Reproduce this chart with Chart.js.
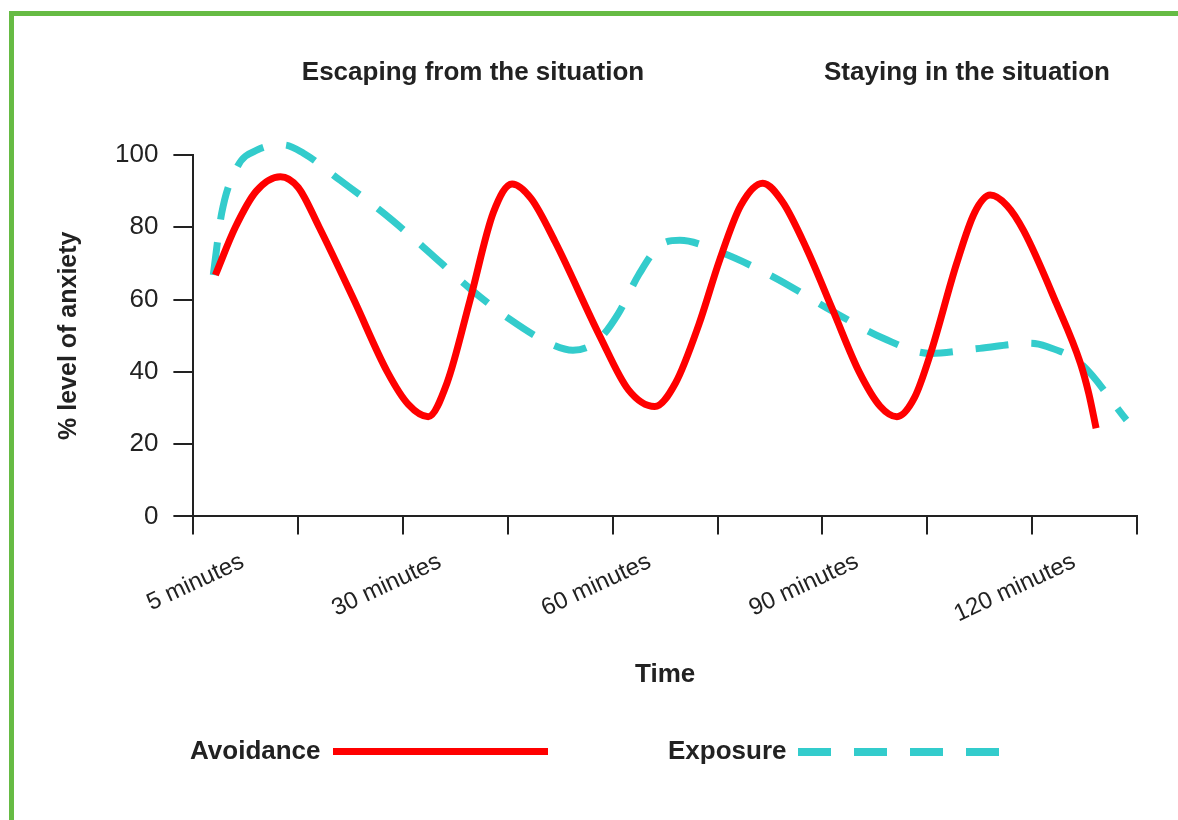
<!DOCTYPE html>
<html>
<head>
<meta charset="utf-8">
<script src="https://cdn.jsdelivr.net/npm/chart.js@4/dist/chart.umd.min.js"></script>
<style>
  html, body { margin: 0; padding: 0; background: #fff; }
  body { font-family: "Liberation Sans", Arial, sans-serif; color: #222; }
  #wrap { position: relative; width: 1178px; height: 820px; overflow: hidden; }
  #frame { position: absolute; left: 9px; top: 11px; width: 1300px; height: 900px;
           border-left: 5px solid #66bb44; border-top: 5px solid #66bb44; }
  #chartBox { position: absolute; left: 0; top: 0; width: 1178px; height: 820px; }
  .head { position: absolute; top: 56px; font-weight: bold; font-size: 26px; white-space: nowrap; transform: translateX(-50%); }
  .lg-text { position: absolute; top: 735px; font-weight: bold; font-size: 26px; }
  .lg-line { position: absolute; height: 7px; }
</style>
</head>
<body>
<div id="wrap">
  <div id="frame"></div>
  <div id="chartBox"><canvas id="anxiety-chart"></canvas></div>
  <div class="head" style="left:473px">Escaping from the situation</div>
  <div class="head" style="left:967px">Staying in the situation</div>
  <div class="lg-text" style="left:190px">Avoidance</div>
  <div class="lg-line" style="left:333px; top:748px; width:215px; background:#ff0000"></div>
  <div class="lg-text" style="left:668px">Exposure</div>
  <div class="lg-line" style="left:798px; top:748px; width:201px; height:8px;
       background:repeating-linear-gradient(90deg, #33cccc 0 33px, transparent 33px 56px)"></div>
</div>
<script>
// time axis runs 0..9 (one unit per tick mark)
const xTickLabels = ['5 minutes', '30 minutes', '60 minutes', '90 minutes', '120 minutes'];
const xTickLabelPos = [0.47, 2.35, 4.35, 6.33, 8.40];

// Avoidance (red solid)
const avoidanceX = [0.21, 0.40, 0.60, 0.83, 1.00, 1.20, 1.53, 1.85, 2.05, 2.24, 2.42, 2.64, 2.86, 3.04, 3.22, 3.45, 3.88, 4.15, 4.40, 4.60, 4.82, 5.02, 5.22, 5.43, 5.62, 5.85, 6.10, 6.35, 6.55, 6.71, 6.88, 7.03, 7.28, 7.45, 7.60, 7.76, 7.92, 8.23, 8.46, 8.54, 8.61];
const avoidanceY = [66.8, 80.0, 90.0, 94.0, 91.0, 80.0, 60.0, 40.0, 31.0, 27.6, 37.0, 60.0, 84.0, 92.0, 88.0, 76.0, 49.7, 35.0, 30.4, 37.0, 53.0, 71.0, 86.0, 92.2, 87.0, 74.0, 57.0, 40.0, 30.5, 27.6, 33.0, 45.0, 70.0, 84.0, 88.9, 86.0, 79.0, 59.0, 42.4, 34.0, 24.4];

// Exposure (cyan dashed)
const exposureX = [0.19, 0.27, 0.42, 0.61, 0.86, 1.05, 1.40, 1.81, 2.19, 2.64, 3.02, 3.39, 3.62, 3.85, 4.05, 4.25, 4.45, 4.64, 5.02, 5.53, 6.10, 6.58, 7.03, 7.50, 7.98, 8.14, 8.46, 8.90];
const exposureY = [66.8, 83.9, 96.8, 101.4, 102.8, 100.5, 93.0, 84.0, 74.6, 63.0, 54.5, 48.0, 46.0, 48.5, 56.0, 67.0, 75.0, 76.4, 73.2, 66.3, 56.7, 49.3, 45.1, 46.5, 47.9, 47.0, 42.4, 26.7];

const ink = '#222';
const fontFam = '"Liberation Sans", Arial, sans-serif';

const toPoints = (xs, ys) => xs.map((x, i) => ({ x: x, y: ys[i] }));

new Chart(document.getElementById('anxiety-chart').getContext('2d'), {
    type: 'line',
    data: {
        datasets: [
            {
                label: 'Avoidance',
                data: toPoints(avoidanceX, avoidanceY),
                borderColor: '#ff0000',
                borderWidth: 7,
                pointRadius: 0,
                cubicInterpolationMode: 'monotone',
                fill: false,
                clip: false,
            },
            {
                label: 'Exposure',
                data: toPoints(exposureX, exposureY),
                borderColor: '#33cccc',
                borderWidth: 7,
                borderDash: [33, 23],
                pointRadius: 0,
                cubicInterpolationMode: 'monotone',
                fill: false,
                clip: false,
            },
        ]
    },
    options: {
        responsive: true,
        maintainAspectRatio: false,
        animation: false,
        layout: { padding: { left: 50, right: 41, top: 155, bottom: 126 } },
        scales: {
            x: {
                type: 'linear', position: 'bottom', weight: 0,
                min: 0, max: 9,
                ticks: { display: false, stepSize: 1 },
                grid: { drawOnChartArea: false, drawTicks: true, tickLength: 18, color: ink, lineWidth: 2 },
                border: { display: true, color: ink, width: 2 },
            },
            x2: {
                type: 'linear', position: 'bottom', weight: 1,
                min: 0, max: 9,
                afterBuildTicks: axis => { axis.ticks = xTickLabelPos.map(v => ({ value: v })); },
                ticks: {
                    autoSkip: false, minRotation: 25, maxRotation: 25, padding: 13,
                    color: ink, font: { family: fontFam, size: 24 },
                    callback: (v, i) => xTickLabels[i],
                },
                grid: { display: false, drawTicks: false },
                border: { display: false },
                title: { display: true, text: 'Time', color: ink, padding: { top: 17, bottom: 4 },
                         font: { family: fontFam, size: 26, weight: 'bold' } },
            },
            y: {
                min: 0, max: 100,
                ticks: { stepSize: 20, padding: 15, color: ink, font: { family: fontFam, size: 26 } },
                grid: { drawOnChartArea: false, drawTicks: true, tickLength: 20, color: ink, lineWidth: 2 },
                border: { display: true, color: ink, width: 2 },
                title: { display: true, text: '% level of anxiety', color: ink, padding: { top: 4, bottom: 16 },
                         font: { family: fontFam, size: 25, weight: 'bold' } },
            }
        },
        plugins: { legend: { display: false }, tooltip: { enabled: false } }
    }
});
</script>
</body>
</html>
